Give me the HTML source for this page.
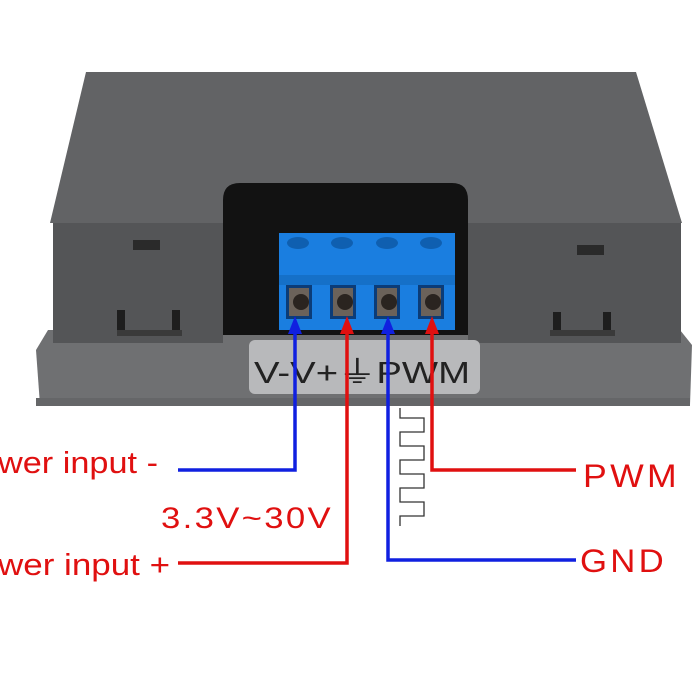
<!DOCTYPE html>
<html><head><style>
body{margin:0;background:#fff;width:692px;height:687px;overflow:hidden;font-family:"Liberation Sans",sans-serif}
</style></head><body>
<svg width="692" height="687" viewBox="0 0 692 687" xmlns="http://www.w3.org/2000/svg">
<polygon points="48,330 680,330 692,345 690,405 40,405 36,350" fill="#6f7072"/>
<rect x="36" y="398" width="654" height="8" fill="#656668"/>
<polygon points="86,72 636,72 682,223 50,223" fill="#626365"/>
<rect x="53" y="223" width="170" height="120" fill="#545557"/>
<rect x="468" y="223" width="213" height="120" fill="#545557"/>
<path d="M223,200 Q223,183 240,183 L452,183 Q468,183 468,200 L468,335 L223,335 Z" fill="#121212"/>
<rect x="133" y="240" width="27" height="10" fill="#2a2a2a"/>
<rect x="117" y="310" width="8" height="22" fill="#1e1e1e"/><rect x="172" y="310" width="8" height="22" fill="#1e1e1e"/>
<rect x="117" y="330" width="65" height="6" fill="#3a3a3a"/>
<rect x="577" y="245" width="27" height="10" fill="#2a2a2a"/>
<rect x="553" y="312" width="8" height="22" fill="#1e1e1e"/><rect x="603" y="312" width="8" height="22" fill="#1e1e1e"/>
<rect x="550" y="330" width="65" height="6" fill="#3a3a3a"/>
<rect x="279" y="233" width="176" height="97" fill="#1a7ee0"/>
<rect x="279" y="275" width="176" height="10" fill="#1570c8"/>
<g fill="#0f5fb0">
<ellipse cx="298" cy="243" rx="11" ry="6"/><ellipse cx="342" cy="243" rx="11" ry="6"/><ellipse cx="387" cy="243" rx="11" ry="6"/><ellipse cx="431" cy="243" rx="11" ry="6"/>
</g>
<g fill="#0b3c78">
<rect x="286" y="285" width="26" height="34"/><rect x="330" y="285" width="26" height="34"/><rect x="374" y="285" width="26" height="34"/><rect x="418" y="285" width="26" height="34"/>
</g>
<g fill="#6b625a">
<rect x="289" y="288" width="20" height="28"/><rect x="333" y="288" width="20" height="28"/><rect x="377" y="288" width="20" height="28"/><rect x="421" y="288" width="20" height="28"/>
</g>
<g fill="#2a2420">
<circle cx="301" cy="302" r="8"/><circle cx="345" cy="302" r="8"/><circle cx="389" cy="302" r="8"/><circle cx="433" cy="302" r="8"/>
</g>
<rect x="249" y="340" width="231" height="54" rx="6" fill="#b8b9bb"/>
<text x="254" y="383" font-size="31" fill="#222" textLength="216" lengthAdjust="spacingAndGlyphs">V-V+⏚PWM</text>
<path d="M400,408 V418 H424 V432 H400 V446 H424 V460 H400 V474 H424 V488 H400 V502 H424 V516 H400 V526" fill="none" stroke="#333" stroke-width="1.3"/>
<g stroke-width="3.5" fill="none">
<path d="M178,470 H295 V330" stroke="#1020e0"/>
<path d="M178,563 H347 V330" stroke="#e01010"/>
<path d="M576,560 H388 V330" stroke="#1020e0"/>
<path d="M576,470 H432 V330" stroke="#e01010"/>
</g>
<polygon points="295,316 288,334 302,334" fill="#1020e0"/>
<polygon points="347,316 340,334 354,334" fill="#e01010"/>
<polygon points="388,316 381,334 395,334" fill="#1020e0"/>
<polygon points="432,316 425,334 439,334" fill="#e01010"/>
<text x="-2" y="473" font-size="31" fill="#e01010" textLength="160" lengthAdjust="spacingAndGlyphs">wer input -</text>
<text x="161" y="528" font-size="30" fill="#e01010" letter-spacing="2" textLength="172" lengthAdjust="spacingAndGlyphs">3.3V~30V</text>
<text x="-2" y="575" font-size="31" fill="#e01010" textLength="172" lengthAdjust="spacingAndGlyphs">wer input +</text>
<text x="583" y="487" font-size="32" fill="#e01010" letter-spacing="3" textLength="97" lengthAdjust="spacingAndGlyphs">PWM</text>
<text x="580" y="572" font-size="32" fill="#e01010" letter-spacing="3" textLength="87" lengthAdjust="spacingAndGlyphs">GND</text>
</svg>
</body></html>
